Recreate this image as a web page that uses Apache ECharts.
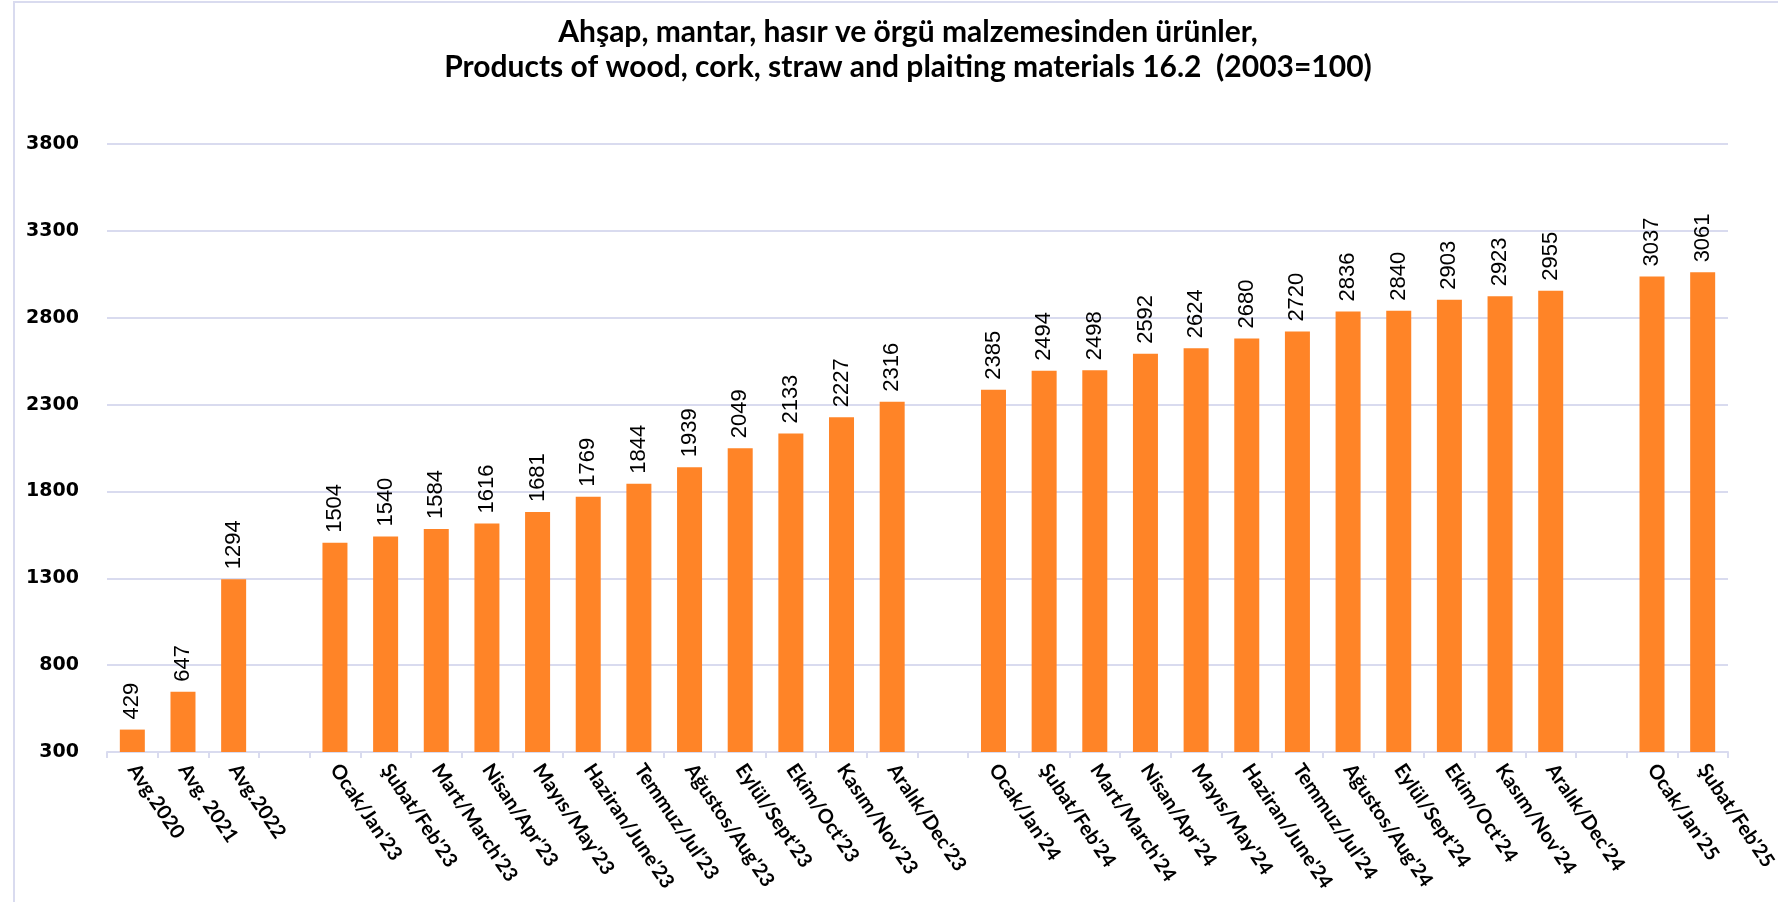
<!DOCTYPE html>
<html>
<head>
<meta charset="utf-8">
<script src="https://cdn.jsdelivr.net/npm/echarts@6/dist/echarts.min.js"></script>
<style>
	html, body { margin: 0; padding: 0; background: #fff; }
	#chart { width: 1778px; height: 902px; }
</style>
</head>
<body>
<div id="chart"></div>
<script>
// kategoriler (boş olanlar gruplar arası boşluk)
var categories = ['Avg.2020', 'Avg. 2021', 'Avg.2022', '',
	'Ocak/Jan\'23', 'Şubat/Feb\'23', 'Mart/March\'23', 'Nisan/Apr\'23', 'Mayıs/May\'23', 'Haziran/June\'23',
	'Temmuz/Jul\'23', 'Ağustos/Aug\'23', 'Eylül/Sept\'23', 'Ekim/Oct\'23', 'Kasım/Nov\'23', 'Aralık/Dec\'23', ' ',
	'Ocak/Jan\'24', 'Şubat/Feb\'24', 'Mart/March\'24', 'Nisan/Apr\'24', 'Mayıs/May\'24', 'Haziran/June\'24',
	'Temmuz/Jul\'24', 'Ağustos/Aug\'24', 'Eylül/Sept\'24', 'Ekim/Oct\'24', 'Kasım/Nov\'24', 'Aralık/Dec\'24', '  ',
	'Ocak/Jan\'25', 'Şubat/Feb\'25'];
var values = [429, 647, 1294, '-',
	1504, 1540, 1584, 1616, 1681, 1769, 1844, 1939, 2049, 2133, 2227, 2316, '-',
	2385, 2494, 2498, 2592, 2624, 2680, 2720, 2836, 2840, 2903, 2923, 2955, '-',
	3037, 3061];
var yTicks = [300, 800, 1300, 1800, 2300, 2800, 3300, 3800];

var myChart = echarts.init(document.getElementById('chart'));
var option = {
	backgroundColor: '#fff',
	animation: false,
	title: {
		text: 'Ahşap, mantar, hasır ve örgü malzemesinden ürünler,\nProducts of wood, cork, straw and plaiting materials 16.2  (2003=100)',
		left: 903,
		textAlign: 'center',
		top: 10,
		textStyle: {
			color: '#000',
			fontFamily: 'Lato',
			fontWeight: 'bold',
			fontSize: 30,
			lineHeight: 35
		}
	},
	graphic: [{
		type: 'rect',
		shape: { x: 14, y: 2, width: 1800, height: 1000 },
		style: { fill: 'none', stroke: '#d9dbef', lineWidth: 2 },
		silent: true
	}],
	grid: {
		left: 107,
		right: 50,
		top: 144,
		bottom: 150,
		outerBoundsMode: 'none'
	},
	xAxis: {
		type: 'category',
		data: categories,
		axisLine: {
			lineStyle: { color: '#d9dbef', width: 2 }
		},
		axisTick: {
			show: true,
			length: 6,
			lineStyle: { color: '#d9dbef', width: 2 }
		},
		axisLabel: {
			interval: 0,
			rotate: -56,
			margin: 14,
			color: '#000',
			fontFamily: 'Lato',
			fontWeight: 'bold',
			fontSize: 20
		}
	},
	yAxis: {
		type: 'value',
		min: yTicks[0],
		max: yTicks[yTicks.length - 1],
		interval: 500,
		axisLine: { show: false },
		axisTick: { show: false },
		axisLabel: {
			margin: 28,
			color: '#000',
			fontFamily: 'DejaVu Sans',
			fontWeight: 'bold',
			fontSize: 19,
			formatter: function (v) { return String(v); }
		},
		splitLine: {
			lineStyle: { color: '#d9dbef', width: 2 }
		}
	},
	series: [{
		type: 'bar',
		data: values,
		barWidth: 25,
		itemStyle: { color: '#ff8427' },
		label: {
			show: true,
			position: 'top',
			rotate: 90,
			align: 'left',
			verticalAlign: 'middle',
			distance: 10,
			color: '#000',
			fontFamily: 'Liberation Sans',
			fontSize: 22
		}
	}]
};
myChart.setOption(option);
</script>
</body>
</html>
